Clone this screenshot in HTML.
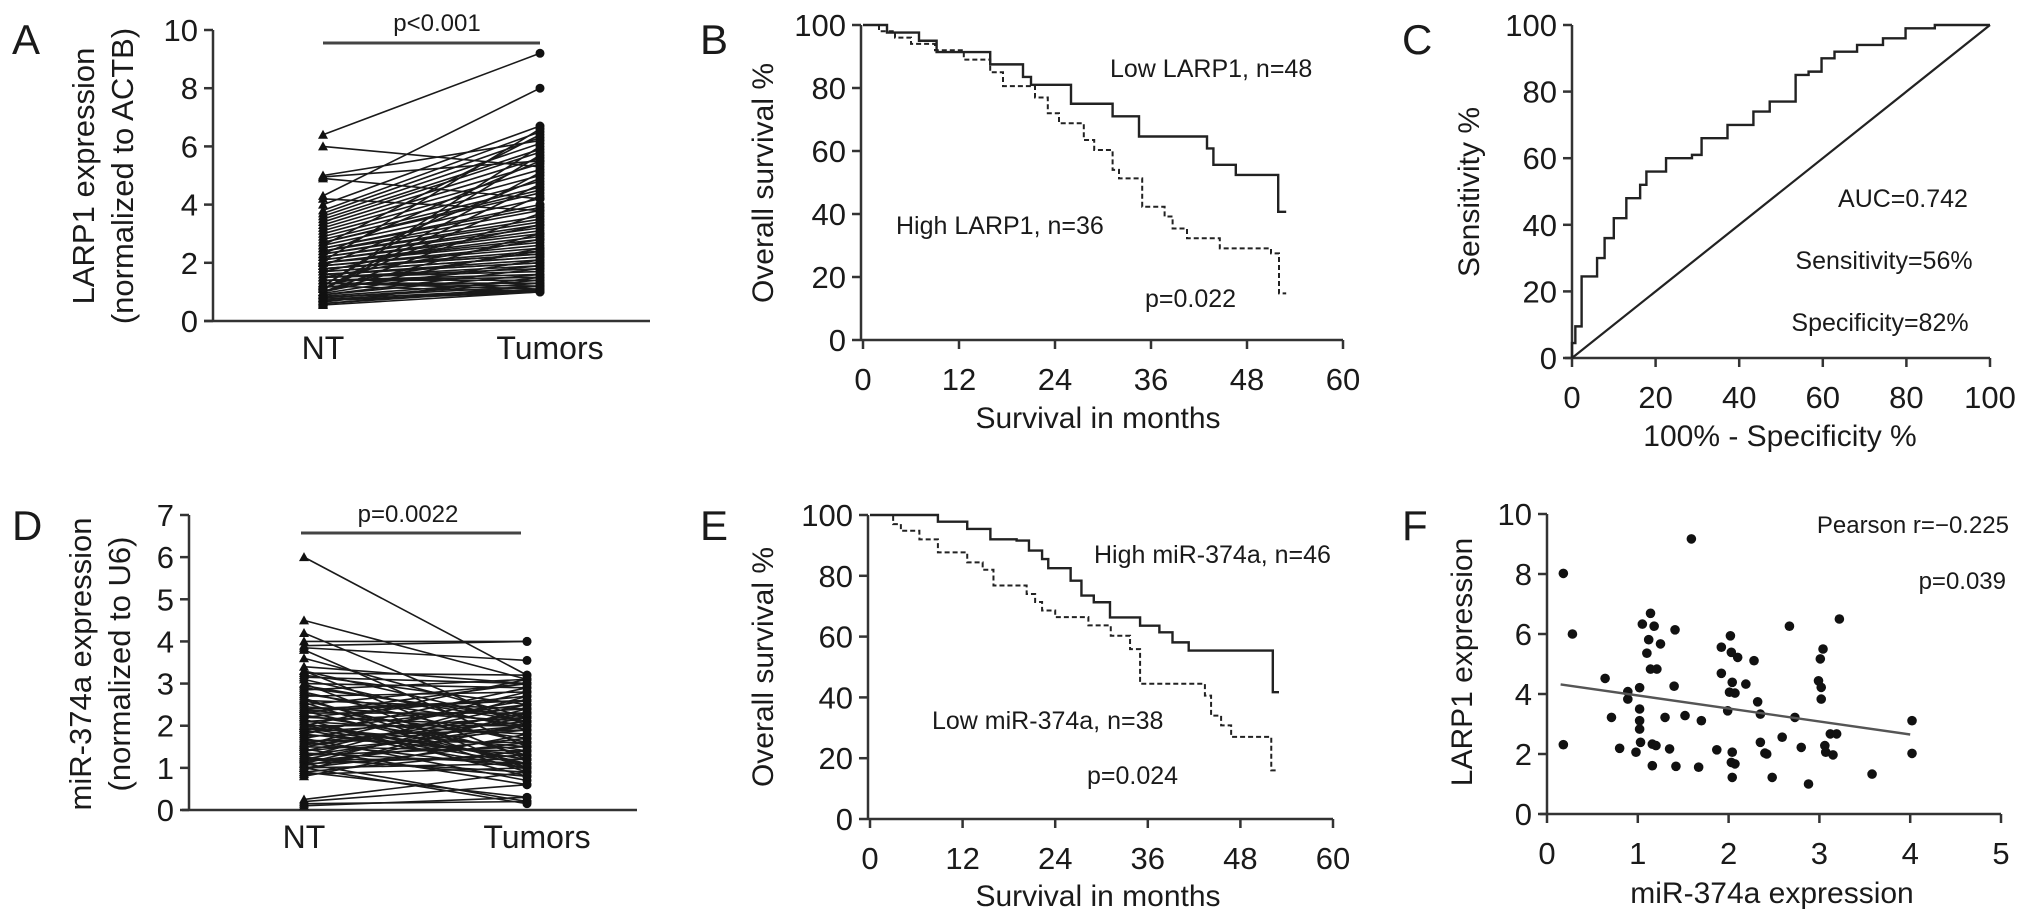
<!DOCTYPE html>
<html><head><meta charset="utf-8"><title>LARP1 / miR-374a figure</title>
<style>
html,body{margin:0;padding:0;background:#fff;width:2032px;height:924px;overflow:hidden}
svg{display:block;font-family:"Liberation Sans",Arial,sans-serif}
text{fill:#1a1a1a}
</style></head>
<body>
<svg id="fig" width="2032" height="924" viewBox="0 0 2032 924">
<g id="static">
<text x="12" y="54" font-size="42">A</text>
<text x="700" y="54" font-size="42">B</text>
<text x="1402" y="54" font-size="42">C</text>
<text x="12" y="540" font-size="42">D</text>
<text x="700" y="540" font-size="42">E</text>
<text x="1402" y="540" font-size="42">F</text>

<text transform="translate(94,176) rotate(-90)" text-anchor="middle" font-size="31">LARP1 expression</text>
<text transform="translate(133,176) rotate(-90)" text-anchor="middle" font-size="31">(normalized to ACTB)</text>
<text transform="translate(773,183) rotate(-90)" text-anchor="middle" font-size="30">Overall survival %</text>
<text x="1098" y="428" text-anchor="middle" font-size="30">Survival in months</text>
<text transform="translate(1479,192) rotate(-90)" text-anchor="middle" font-size="30">Sensitivity %</text>
<text x="1780" y="446" text-anchor="middle" font-size="30">100% - Specificity %</text>
<text transform="translate(91,664) rotate(-90)" text-anchor="middle" font-size="31">miR-374a expression</text>
<text transform="translate(130,664) rotate(-90)" text-anchor="middle" font-size="31">(normalized to U6)</text>
<text transform="translate(773,667) rotate(-90)" text-anchor="middle" font-size="30">Overall survival %</text>
<text x="1098" y="906" text-anchor="middle" font-size="30">Survival in months</text>
<text transform="translate(1472,662) rotate(-90)" text-anchor="middle" font-size="30">LARP1 expression</text>
<text x="1772" y="903" text-anchor="middle" font-size="30">miR-374a expression</text>

<text x="437" y="31" text-anchor="middle" font-size="24">p&lt;0.001</text>
<line x1="323" y1="43" x2="540" y2="43" stroke="#444" stroke-width="3"/>
<text x="408" y="522" text-anchor="middle" font-size="24">p=0.0022</text>
<line x1="301" y1="533" x2="521" y2="533" stroke="#444" stroke-width="3"/>

<text x="1110" y="77" font-size="25">Low LARP1, n=48</text>
<text x="896" y="234" font-size="25">High LARP1, n=36</text>
<text x="1145" y="307" font-size="25">p=0.022</text>
<text x="1903" y="207" text-anchor="middle" font-size="25">AUC=0.742</text>
<text x="1884" y="269" text-anchor="middle" font-size="25">Sensitivity=56%</text>
<text x="1880" y="331" text-anchor="middle" font-size="25">Specificity=82%</text>
<text x="1094" y="563" font-size="25">High miR-374a, n=46</text>
<text x="932" y="729" font-size="25">Low miR-374a, n=38</text>
<text x="1087" y="784" font-size="25">p=0.024</text>
<text x="2009" y="533" text-anchor="end" font-size="24">Pearson r=−0.225</text>
<text x="2006" y="589" text-anchor="end" font-size="24">p=0.039</text>
</g>
</svg>
<script>
// ---------- Panel A data (paired NT / Tumor LARP1) ----------
const aNT = [6.4,6.0,5.0,4.9,4.95,4.3,4.2,4.0,3.8,3.7,3.6,3.5,3.4,3.3,3.2,3.1,3.0,2.9,2.8,2.7,2.7,2.6,2.5,2.5,2.4,2.4,2.3,2.3,2.2,2.2,2.1,2.1,2.0,2.0,2.0,1.9,1.9,1.8,1.8,1.8,1.7,1.7,1.6,1.6,1.6,1.5,1.5,1.5,1.4,1.4,1.4,1.3,1.3,1.3,1.2,1.2,1.2,1.1,1.1,1.1,1.0,1.0,1.0,0.95,0.9,0.9,0.85,0.8,0.8,0.75,0.7,0.7,0.65,0.6,0.6,0.55,2.6,2.3,1.9,1.7,1.5,1.25,1.15,2.05];
const aTU = [9.2,5.3,6.2,4.2,5.5,8.0,3.8,6.7,6.5,6.3,6.1,5.9,5.8,5.6,5.4,5.2,5.0,4.8,4.6,4.5,4.4,4.2,4.0,3.9,3.8,3.6,3.5,3.4,3.3,3.2,3.1,3.0,2.9,2.8,2.7,2.6,2.5,2.4,2.3,2.3,2.2,2.2,2.1,2.0,2.0,1.9,1.8,1.7,1.6,1.5,1.4,1.3,1.2,1.1,1.0,6.0,5.7,5.1,4.7,4.3,3.7,3.0,2.5,2.1,1.8,1.6,1.4,1.3,1.2,1.1,1.05,1.0,1.5,1.2,1.1,1.0,6.4,5.5,4.9,3.3,2.8,2.4,1.9,6.6];
const aTicks = [0,2,4,6,8,10];
const aCats = ["NT","Tumors"];
// ---------- Panel D data (paired NT / Tumor miR-374a) ----------
const dNT = [6.0,4.5,4.2,4.0,3.9,3.85,3.8,3.6,3.4,3.3,3.3,3.25,3.2,3.1,3.0,3.0,2.9,2.85,2.8,2.75,2.7,2.6,2.6,2.55,2.5,2.45,2.4,2.4,2.35,2.3,2.3,2.25,2.2,2.2,2.15,2.1,2.1,2.05,2.0,2.0,1.95,1.9,1.9,1.85,1.8,1.8,1.75,1.7,1.7,1.65,1.6,1.6,1.55,1.5,1.5,1.45,1.4,1.4,1.35,1.3,1.3,1.25,1.2,1.2,1.2,1.15,1.1,1.1,1.1,1.05,1.0,1.0,0.95,0.9,0.9,0.85,0.8,0.25,0.2,0.15,0.1,2.95,2.65,2.35,1.95,1.55,1.25,3.15,2.0,1.0];
const dTU = [3.2,3.1,2.0,4.0,4.0,3.55,1.5,2.2,3.0,2.1,1.2,3.2,2.5,1.9,2.9,1.0,2.2,3.1,1.6,2.0,2.8,1.3,2.4,0.9,3.0,2.1,1.7,2.6,1.1,2.3,3.0,1.4,2.0,2.7,0.8,1.8,2.4,1.2,3.1,2.0,1.5,2.5,1.0,2.2,2.9,1.3,1.9,0.7,2.6,1.6,2.1,1.0,2.8,1.4,2.3,0.6,1.9,2.5,1.1,2.0,1.5,2.7,1.2,2.2,0.9,1.7,2.4,1.3,0.2,2.0,1.6,1.1,2.3,1.4,0.3,1.0,1.8,0.9,0.6,0.2,0.3,2.1,1.0,2.6,1.1,2.0,0.8,3.0,1.2,0.15];
const dTicks = [0,1,2,3,4,5,6,7];
const dCats = ["NT","Tumors"];
// ---------- Panel B data (Kaplan-Meier, LARP1) ----------
const bLowMonths = [0,3,7,9.2,15.9,20,21,26,31.2,34.5,43,43.8,46.6,51.9,52.9];
const bLowSurv   = [100,97.6,95,91.4,87.5,83.5,81,75,71,64.6,60.8,55.6,52.4,40.7,40.7];
const bHighMonths = [0,2,4,6,9,12.6,15.9,17.5,21.5,23.1,24.5,27.6,28.9,31.2,32,34.9,37.7,38.7,40.5,44.6,51,52,52.9];
const bHighSurv   = [100,98,96,94,92,89,85,80.6,77,72,68.8,63.5,60.3,54,51.3,42.3,39.2,35.4,32.3,29.1,27.5,14.8,14.8];
const kmXTicks = [0,12,24,36,48,60];
const kmYTicks = [0,20,40,60,80,100];
// ---------- Panel E data (Kaplan-Meier, miR-374a) ----------
const eHighMonths = [0,8.8,12.6,15.6,19,20.6,22.3,23.1,26,27.4,29,31.1,35,37.5,39.2,41.3,52.2,53];
const eHighSurv   = [100,97.8,95.4,92,91.6,88.3,85.5,82.5,78.4,73.5,71.3,66.3,63.6,61.4,58.1,55.4,41.7,41.7];
const eLowMonths = [0,3,4,6.4,8.8,12.6,14.6,16,20.3,21.4,22.3,24,28.3,31.2,33.7,35,43.4,44.2,45.5,46.8,52,52.8];
const eLowSurv   = [100,97,94.8,92,87.7,84.4,82,76.8,74,71.4,68.6,66.4,63.7,60.3,55.9,44.5,40.6,34,30.8,27,16,16];
// ---------- Panel C data (ROC) ----------
const cFpr  = [0,0,0.8,2.3,5.7,6,7.8,10,13,16.3,17.8,22.5,28.7,31,37.2,43.4,47.3,52,53.5,56.6,59.7,62.8,68.2,74.4,79.8,86.8,100];
const cSens = [0,4.5,9.5,24.5,24.5,30,36,42,48,52,56,60,61,66,70,74,77,77,85,86,90,92,94,96,99,100,100];
const cTicks = [0,20,40,60,80,100];
// ---------- Panel F data (scatter) ----------
const fMir = [0.18,0.18,0.28,0.64,0.71,0.80,0.89,0.89,0.98,1.02,1.02,1.02,1.02,1.03,1.05,1.10,1.12,1.14,1.14,1.16,1.18,1.16,1.21,1.25,1.20,1.30,1.35,1.40,1.41,1.42,1.52,1.59,1.67,1.70,1.87,1.92,1.92,1.99,2.01,2.02,2.03,2.04,2.03,2.04,2.04,2.07,2.10,2.07,2.19,2.28,2.32,2.35,2.35,2.40,2.42,2.48,2.59,2.67,2.73,2.80,2.88,2.99,3.01,3.02,3.02,3.04,3.06,3.07,3.12,3.15,3.19,3.22,3.58,4.02,4.02];
const fLarp = [8.02,2.31,6.0,4.52,3.22,2.19,4.08,3.83,2.06,4.21,3.5,3.11,2.83,2.39,6.33,5.36,5.81,6.69,4.83,2.33,6.26,1.61,4.83,5.67,2.28,3.22,2.17,4.26,6.14,1.59,3.28,9.17,1.56,3.11,2.14,4.69,5.56,3.44,4.06,5.94,5.39,4.39,1.72,1.22,2.06,4.03,5.22,1.67,4.33,5.11,3.74,3.33,2.39,2.03,2.0,1.22,2.56,6.26,3.22,2.22,1.0,4.44,5.17,4.22,3.83,5.5,2.28,2.06,2.67,1.97,2.67,6.5,1.33,3.11,2.02];
const fFitX = [0.15,4.0];
const fFitY = [4.32,2.65];
const fXTicks = [0,1,2,3,4,5];
const fYTicks = [0,2,4,6,8,10];

const NS = "http://www.w3.org/2000/svg";
const svg = document.getElementById("fig");
function mk(tag, attrs, parent){
  const el = document.createElementNS(NS, tag);
  for (const k in attrs) el.setAttribute(k, attrs[k]);
  (parent||svg).appendChild(el);
  return el;
}
function lin(d0,d1,r0,r1){ return v => r0 + (v-d0)/(d1-d0)*(r1-r0); }
const AX = {stroke:"#333","stroke-width":2.5,fill:"none"};

function yAxis(g, x, y0, y1, ticks, sy, name){
  const l = mk("line", Object.assign({x1:x,y1:sy(ticks[0]),x2:x,y2:sy(ticks[ticks.length-1])},AX), g);
  
  
  ticks.forEach(t => {
    const tk = mk("line", Object.assign({x1:x-9,y1:sy(t),x2:x,y2:sy(t)},AX), g);
    
    
    const tx = mk("text", {x:x-15,y:sy(t)+11,"text-anchor":"end","font-size":31}, g);
    tx.textContent = t;
    
    
  });
}
function xAxis(g, y, ticks, sx, name, xa, xb){
  const l = mk("line", Object.assign({x1:xa,y1:y,x2:xb,y2:y},AX), g);
  
  
  ticks.forEach(t => {
    const tk = mk("line", Object.assign({x1:sx(t),y1:y,x2:sx(t),y2:y+9},AX), g);
    
    
    const tx = mk("text", {x:sx(t),y:y+50,"text-anchor":"middle","font-size":31}, g);
    tx.textContent = t;
    
    
  });
}
function paired(name, nt, tu, ticks, cats, axX, y0, yTop, xl, xr, xNT, xTU){
  const g = mk("g", {});
  
  
  const sy = lin(ticks[0], ticks[ticks.length-1], y0, yTop);
  yAxis(g, axX, y0, yTop, ticks, sy, name);
  const xl2 = mk("line", Object.assign({x1:xl,y1:y0,x2:xr,y2:y0},AX), g);
  
  
  [xNT, xTU].forEach((cx,i) => {
    const t = mk("text", {x:cx+(i?10:0),y:y0+38,"text-anchor":"middle","font-size":32}, g);
    t.textContent = cats[i];
    
    
  });
  const n = Math.min(nt.length, tu.length);
  for (let i=0;i<n;i++){
    const ln = mk("line", {x1:xNT,y1:sy(nt[i]),x2:xTU,y2:sy(tu[i]),stroke:"#1a1a1a","stroke-width":1.6}, g);
    
    
  }
  for (let i=0;i<n;i++){
    const y = sy(nt[i]);
    const tri = mk("polygon", {points:`${xNT},${y-5} ${xNT-5},${y+4} ${xNT+5},${y+4}`, fill:"#111"}, g);
    
    
    const c = mk("circle", {cx:xTU, cy:sy(tu[i]), r:4.5, fill:"#111"}, g);
    
    
  }
}
paired("panel-a", aNT, aTU, aTicks, aCats, 213, 321, 30, 204, 650, 323, 540);
paired("panel-d", dNT, dTU, dTicks, dCats, 189, 810, 515, 182, 637, 304, 527);

function stepPath(xs, ys, sx, sy){
  let d = `M${sx(xs[0])},${sy(ys[0])}`;
  for (let i=1;i<xs.length;i++){
    d += ` L${sx(xs[i])},${sy(ys[i-1])} L${sx(xs[i])},${sy(ys[i])}`;
  }
  return d;
}
function km(name, x0, x60, y0, y100, s1m, s1s, s2m, s2s){
  const g = mk("g", {});
  
  
  const sx = lin(0,60,x0,x60), sy = lin(0,100,y0,y100);
  yAxis(g, x0-2, y0, y100, kmYTicks, sy, name);
  xAxis(g, y0, kmXTicks, sx, name, x0-2, x60);
  const p1 = mk("path", {d:stepPath(s1m,s1s,sx,sy), stroke:"#222","stroke-width":2.4, fill:"none"}, g);
  
  
  const p2 = mk("path", {d:stepPath(s2m,s2s,sx,sy), stroke:"#222","stroke-width":2,"stroke-dasharray":"5 3", fill:"none"}, g);
  
  
}
km("panel-b", 863, 1343, 340, 25, bLowMonths, bLowSurv, bHighMonths, bHighSurv);
km("panel-e", 870, 1333, 819, 515, eHighMonths, eHighSurv, eLowMonths, eLowSurv);

// Panel C ROC
(function(){
  const g = mk("g", {});
  
  
  const sx = lin(0,100,1572,1990), sy = lin(0,100,358,25);
  yAxis(g, 1572, 358, 25, cTicks, sy, "panel-c");
  xAxis(g, 358, cTicks, sx, "panel-c", 1565, 1990);
  const diag = mk("line", {x1:sx(0),y1:sy(0),x2:sx(100),y2:sy(100),stroke:"#222","stroke-width":2.2}, g);
  
  
  let d = `M${sx(cFpr[0])},${sy(cSens[0])}`;
  for (let i=1;i<cFpr.length;i++) d += ` L${sx(cFpr[i])},${sy(cSens[i-1])} L${sx(cFpr[i])},${sy(cSens[i])}`;
  const roc = mk("path", {d:d, stroke:"#222","stroke-width":2.4, fill:"none"}, g);
  
  
})();

// Panel F scatter
(function(){
  const g = mk("g", {});
  
  
  const sx = lin(0,5,1547,2001), sy = lin(0,10,814,514);
  yAxis(g, 1547, 814, 514, fYTicks, sy, "panel-f");
  xAxis(g, 814, fXTicks, sx, "panel-f", 1540, 2001);
  fMir.forEach((v,i) => {
    const c = mk("circle", {cx:sx(v), cy:sy(fLarp[i]), r:4.8, fill:"#111"}, g);
    
    
  });
  const fit = mk("line", {x1:sx(fFitX[0]),y1:sy(fFitY[0]),x2:sx(fFitX[1]),y2:sy(fFitY[1]),stroke:"#555","stroke-width":2.4}, g);
  
  
})();
</script>
</body></html>
